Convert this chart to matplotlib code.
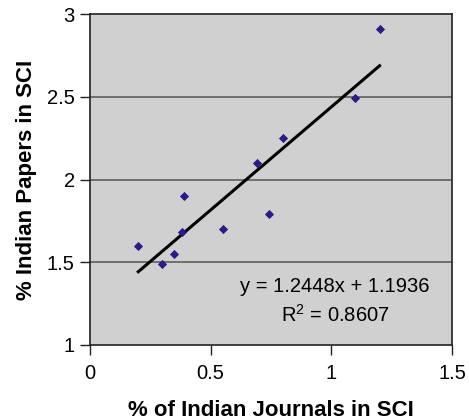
import matplotlib
matplotlib.use("Agg")
import matplotlib.pyplot as plt
import numpy as np

plt.rcParams['font.family'] = ['Liberation Sans', 'DejaVu Sans']

journals_pct = [0.20, 0.30, 0.35, 0.38, 0.39, 0.55, 0.69, 0.74, 0.80, 1.10, 1.20]
papers_pct = [1.60, 1.49, 1.55, 1.68, 1.90, 1.70, 2.10, 1.79, 2.25, 2.49, 2.91]
slope = 1.2448
intercept = 1.1936
r_squared = 0.8607
x_ticks = [0, 0.5, 1, 1.5]
y_ticks = [1, 1.5, 2, 2.5, 3]

fig = plt.figure(figsize=(4.69, 4.2), dpi=100)
ax = fig.add_axes([90/469, 75/420, 362/469, 331/420])
ax.set_facecolor('#d0d0d0')

ax.set_xlim(0, 1.5)
ax.set_ylim(1, 3)
ax.set_xticks(x_ticks)
ax.set_xticklabels(['0', '0.5', '1', '1.5'])
ax.set_yticks(y_ticks)
ax.set_yticklabels(['1', '1.5', '2', '2.5', '3'])

for y in y_ticks[1:-1]:
    ax.axhline(y, color='#555555', lw=1.1, zorder=1)

xs = np.array([min(journals_pct), max(journals_pct)])
ax.plot(xs, slope * xs + intercept, color='black', lw=2.2, zorder=2)
ax.scatter(journals_pct, papers_pct, marker='D', s=22, color='#2a1a8a', zorder=3, linewidths=0)

for s in ax.spines.values():
    s.set_color('#222222')
    s.set_linewidth(1.2)

ax.tick_params(axis='both', direction='out', length=7, width=1.0, color='#222222',
               labelsize=14.5, pad=4)
ax.tick_params(axis='x', pad=7)

ax.text(0.677, 0.178, 'y = %.4fx + %.4f' % (slope, intercept), transform=ax.transAxes,
        fontsize=14.5, ha='center', va='center')
ax.text(0.677, 0.09, '$\\mathregular{R^2}$ = %.4f' % r_squared, transform=ax.transAxes,
        fontsize=14.5, ha='center', va='center')

ax.set_xlabel('% of Indian Journals in SCI', fontsize=16, fontweight='bold', labelpad=12)
ax.set_ylabel('% Indian Papers in SCI', fontsize=16, fontweight='bold', labelpad=7)

fig.savefig('out.png', dpi=100)
